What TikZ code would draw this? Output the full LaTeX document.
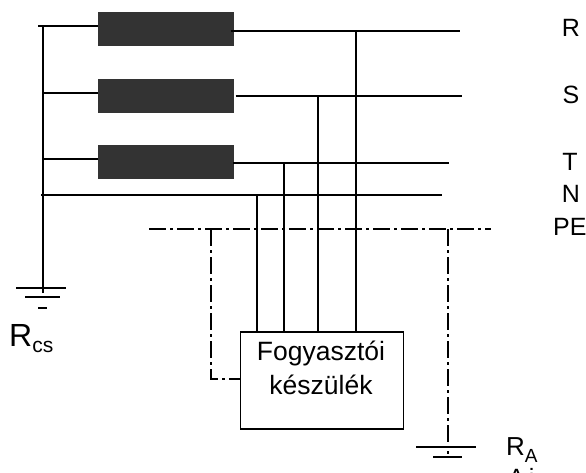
\documentclass[tikz,border=0pt]{standalone}
\usepackage{fontspec}
\setmainfont{Liberation Sans}
\tikzstyle{fazistekercs} = [draw=none, fill=black!80, minimum width=136pt, minimum height=34pt, inner sep=0pt]
\tikzstyle{vezetek} = [draw, line width=1.3pt]
\tikzstyle{vedo} = [draw, line width=1.3pt, dash pattern=on 17pt off 4pt on 3pt off 4pt]
\tikzstyle{felirat} = [inner sep=0pt, font=\fontsize{25}{30}\selectfont]
\begin{document}
\begin{tikzpicture}[x=1pt,y=-1pt]
\useasboundingbox (0,0) rectangle (586,473);
% tekercsek
\node[fazistekercs] (tr) at (166,29) {};
\node[fazistekercs] (ts) at (166,96) {};
\node[fazistekercs] (tt) at (166,162) {};
\node[draw, line width=1.3pt, minimum width=163pt, minimum height=97pt, inner sep=0pt] (kesz) at (321.7,380.5) {};
\node[align=center, inner sep=0pt, font=\fontsize{26.5}{34}\selectfont] (keszt) at (321,368) {Fogyaszt\'oi\\k\'esz\"ul\'ek};

% sinek
\coordinate (rb) at (231,31);
\coordinate (rj) at (460,31);
\coordinate (sb) at (235.5,96);
\coordinate (sj) at (462,96);
\coordinate (tb) at (233,163);
\coordinate (tj) at (449,163);
\coordinate (nb) at (41,195);
\coordinate (nj) at (442,195);
\coordinate (pb) at (149,229);
\coordinate (pj) at (491,229);
\draw[vezetek] (rb) -- (rj);
\draw[vezetek] (sb) -- (sj);
\draw[vezetek] (tb) -- (tj);
\draw[vezetek] (nb) -- (nj);
\draw[vedo] (pb) -- (pj);

% bal oldal
\coordinate (csf) at (43,26);
\coordinate (csa) at (43,293);
\coordinate (csk) at (38,26);
\draw[vezetek] (csa) -- (csf);
\draw[vezetek] (csk) -- (tr.west |- csk);
\draw[vezetek] (csf |- 0,93) -- (ts.west |- 0,93);
\draw[vezetek] (csf |- 0,159) -- (tt.west |- 0,159);

% fogyaszto bekotese
\coordinate (kn) at (257,195);
\coordinate (kt) at (284,163);
\coordinate (ks) at (318,96);
\coordinate (kr) at (356,31);
\draw[vezetek] (kn) -- (kn |- kesz.north);
\draw[vezetek] (kt) -- (kt |- kesz.north);
\draw[vezetek] (ks) -- (ks |- kesz.north);
\draw[vezetek] (kr) -- (kr |- kesz.north);
\coordinate (kp) at (211,229);
\coordinate (kq) at (211,379);
\draw[vedo] (kp) -- (kq) -- (kq -| kesz.west);
\coordinate (ap) at (448,229);
\coordinate (af) at (448,447);
\draw[vedo] (ap) -- (af);

% foldelesek
\draw[vezetek] (16,288) -- (66,288);
\draw[vezetek] (25,297) -- (60,297);
\draw[vezetek] (38,308) -- (47,308);
\draw[vezetek] (416,447) -- (476,447);
\draw[vezetek] (433,457) -- (462,457);
\draw[vezetek] (448,451) -- (448,453.5);

\node[felirat] (lr) at (571,28) {R};
\node[felirat] (ls) at (571,95) {S};
\node[felirat] (lt) at (570,162) {T};
\node[felirat] (ln) at (571,194) {N};
\node[felirat, anchor=west] (lpe) at (553,227) {PE};
\node[anchor=base west, inner sep=0pt, font=\fontsize{32}{36}\selectfont] (lrcs) at (9,346) {R\raisebox{-6pt}{\fontsize{21}{24}\selectfont cs}};
\node[anchor=base west, inner sep=0pt, font=\fontsize{26}{30}\selectfont] (lra) at (506,455) {R\raisebox{-7pt}{\fontsize{19}{22}\selectfont A}};
\node[anchor=base west, inner sep=0pt, font=\fontsize{25}{30}\selectfont] (lai) at (508,486) {A\kern4pt i};
\end{tikzpicture}
\end{document}
